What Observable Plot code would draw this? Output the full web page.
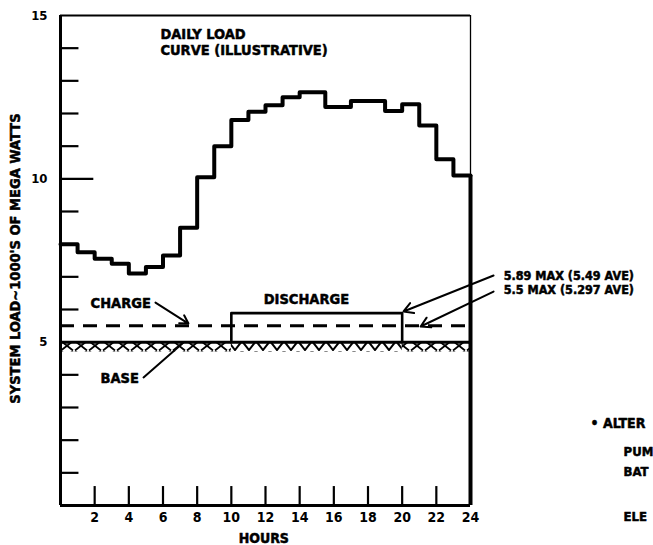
<!DOCTYPE html>
<html>
<head>
<meta charset="utf-8">
<script src="https://cdn.jsdelivr.net/npm/d3@7"></script>
<script src="https://cdn.jsdelivr.net/npm/@observablehq/plot@0.6"></script>
<style>
  html, body { margin: 0; padding: 0; background: #fff; }
  #chart svg { display: block; }
</style>
</head>
<body>
<div id="chart"></div>
<script>
// ---- data ----
const stepHours = [0, 1, 2, 3, 4, 5, 6, 7, 8, 9, 10, 11, 12, 13, 14, 15.5, 17, 19, 20, 21, 22, 23];
const stepLoad  = [8.0, 7.75, 7.55, 7.4, 7.1, 7.3, 7.65, 8.5, 10.05, 11.0, 11.8, 12.05, 12.25, 12.5, 12.65, 12.2, 12.38, 12.08, 12.28, 11.63, 10.6, 10.1];
const dayEnd = 24;
const baseLoad = 5.0;
const chargeLevel = 5.5;
const dischargeLevel = 5.89;
const dischargeStart = 10;
const dischargeEnd = 20;
const yMinorTicks = [1, 2, 3, 4, 6, 7, 8, 9, 11, 12, 13, 14];
const yMajorTicks = [10];
const yTickLabels = [5, 10, 15];
const xTicks = [2, 4, 6, 8, 10, 12, 14, 16, 18, 20, 22];
const xTickLabels = [2, 4, 6, 8, 10, 12, 14, 16, 18, 20, 22, 24];

const stepData = stepHours.map((h, i) => ({h, v: stepLoad[i]}));
stepData.push({h: dayEnd, v: stepLoad[stepLoad.length - 1]});
const dischargeBox = [
  {h: dischargeStart, v: baseLoad}, {h: dischargeStart, v: dischargeLevel},
  {h: dischargeEnd, v: dischargeLevel}, {h: dischargeEnd, v: baseLoad}
];

const FONT = "'Liberation Sans Narrow', 'DejaVu Sans Condensed', 'Arial Narrow', sans-serif";
const bold = {fontWeight: "bold", fill: "black", stroke: "black", strokeWidth: 0.5};

const chart = Plot.plot({
  width: 653,
  height: 545,
  marginLeft: 60,
  marginRight: 183,
  marginTop: 15,
  marginBottom: 40,
  style: {fontFamily: FONT, background: "white", overflow: "visible"},
  x: {domain: [0, 24]},
  y: {domain: [0, 15]},
  marks: [
    // base hatch
    Plot.rect([{x1: 0, x2: dischargeStart}, {x1: dischargeEnd, x2: dayEnd}],
      {x1: "x1", x2: "x2", y1: baseLoad - 0.3, y2: baseLoad, fill: "url(#xhatch)"}),
    Plot.rect([{x1: dischargeStart, x2: dischargeEnd}],
      {x1: "x1", x2: "x2", y1: baseLoad - 0.3, y2: baseLoad, fill: "url(#vhatch)"}),
    // frame
    Plot.ruleX([0], {stroke: "black", strokeWidth: 3}),
    Plot.ruleY([0], {stroke: "black", strokeWidth: 3}),
    Plot.ruleY([15], {stroke: "black", strokeWidth: 1.8}),
    Plot.ruleX([dayEnd], {stroke: "black", strokeWidth: 1.3}),
    Plot.ruleX([dayEnd], {y1: 0, y2: stepLoad[stepLoad.length - 1], stroke: "black", strokeWidth: 4}),
    // inward ticks
    Plot.ruleY(yMinorTicks, {x1: 0, x2: 1.08, stroke: "black", strokeWidth: 2.2}),
    Plot.ruleY(yMajorTicks, {x1: 0, x2: 1.95, stroke: "black", strokeWidth: 2.2}),
    Plot.ruleX(xTicks, {y1: 0, y2: 0.58, stroke: "black", strokeWidth: 2.2}),
    // levels
    Plot.ruleY([baseLoad], {x1: 0, x2: dayEnd, stroke: "black", strokeWidth: 3}),
    Plot.ruleY([chargeLevel], {x1: 0, x2: dayEnd, stroke: "black", strokeWidth: 3, strokeDasharray: "14,9"}),
    Plot.line(dischargeBox, {x: "h", y: "v", stroke: "black", strokeWidth: 2.6}),
    // load curve
    Plot.line(stepData, {x: "h", y: "v", curve: "step-after", stroke: "black", strokeWidth: 4}),
    // axes labels
    Plot.axisY({ticks: yTickLabels, tickSize: 0, tickPadding: 13, fontSize: 13, fontWeight: "bold", label: null}),
    Plot.axisX({ticks: xTickLabels, tickSize: 0, tickPadding: 7, fontSize: 14, fontWeight: "bold", label: null}),
    Plot.text(["HOURS"], {x: 11.9, y: -1.02, fontSize: 14, ...bold}),
    Plot.text(["SYSTEM LOAD~1000'S OF MEGA WATTS"], {x: -2.63, y: 7.56, rotate: -90, fontSize: 14.5, ...bold}),
    // annotations
    Plot.text(["DAILY LOAD\nCURVE (ILLUSTRATIVE)"], {x: 5.85, y: 14.2, textAnchor: "start", lineHeight: 1.15, fontSize: 14.5, ...bold}),
    Plot.text(["CHARGE"], {x: 1.76, y: 6.2, textAnchor: "start", fontSize: 14.5, ...bold}),
    Plot.text(["DISCHARGE"], {x: 11.9, y: 6.31, textAnchor: "start", fontSize: 14.5, ...bold}),
    Plot.text(["BASE"], {x: 2.34, y: 3.89, textAnchor: "start", fontSize: 14.5, ...bold}),
    Plot.text([`${dischargeLevel} MAX (5.49 AVE)`], {x: 25.94, y: 7.03, textAnchor: "start", fontSize: 12.5, ...bold}),
    Plot.text([`${chargeLevel} MAX (5.297 AVE)`], {x: 25.94, y: 6.59, textAnchor: "start", fontSize: 12.5, ...bold}),
    Plot.text(["\u2022 ALTER"], {x: 31.03, y: 2.5, textAnchor: "start", fontSize: 14, ...bold}),
    Plot.text(["PUM"], {x: 32.96, y: 1.655, textAnchor: "start", fontSize: 13, ...bold}),
    Plot.text(["BAT"], {x: 32.96, y: 1.04, textAnchor: "start", fontSize: 13, ...bold}),
    Plot.text(["ELE"], {x: 32.96, y: -0.35, textAnchor: "start", fontSize: 13, ...bold}),
    // leaders
    Plot.arrow([0], {x1: 5.56, y1: 6.21, x2: 7.49, y2: 5.57, stroke: "black", strokeWidth: 2, headLength: 7}),
    Plot.arrow([0], {x1: 4.86, y1: 3.92, x2: 7.2, y2: 4.99, stroke: "black", strokeWidth: 2, headLength: 0}),
    Plot.arrow([0], {x1: 25.35, y1: 7.04, x2: 20.08, y2: 5.94, stroke: "black", strokeWidth: 2, headLength: 8}),
    Plot.arrow([0], {x1: 25.35, y1: 6.55, x2: 21.08, y2: 5.48, stroke: "black", strokeWidth: 2, headLength: 8})
  ]
});

// hatch patterns for the base band
const svg = d3.select(chart.tagName.toLowerCase() === "svg" ? chart : chart.querySelector("svg"));
const defs = svg.insert("defs", ":first-child");
const px = 60;
const xp = defs.append("pattern").attr("id", "xhatch").attr("patternUnits", "userSpaceOnUse")
  .attr("x", px).attr("y", 341).attr("width", 14).attr("height", 10);
xp.append("path").attr("d", "M1,0L13,9.5M13,0L1,9.5").attr("stroke", "black").attr("stroke-width", 1.8).attr("fill", "none");
const vp = defs.append("pattern").attr("id", "vhatch").attr("patternUnits", "userSpaceOnUse")
  .attr("x", px).attr("y", 341).attr("width", 14).attr("height", 10);
vp.append("path").attr("d", "M0,0L7,9L14,0").attr("stroke", "black").attr("stroke-width", 2).attr("fill", "none");

document.getElementById("chart").appendChild(chart);
</script>
</body>
</html>
